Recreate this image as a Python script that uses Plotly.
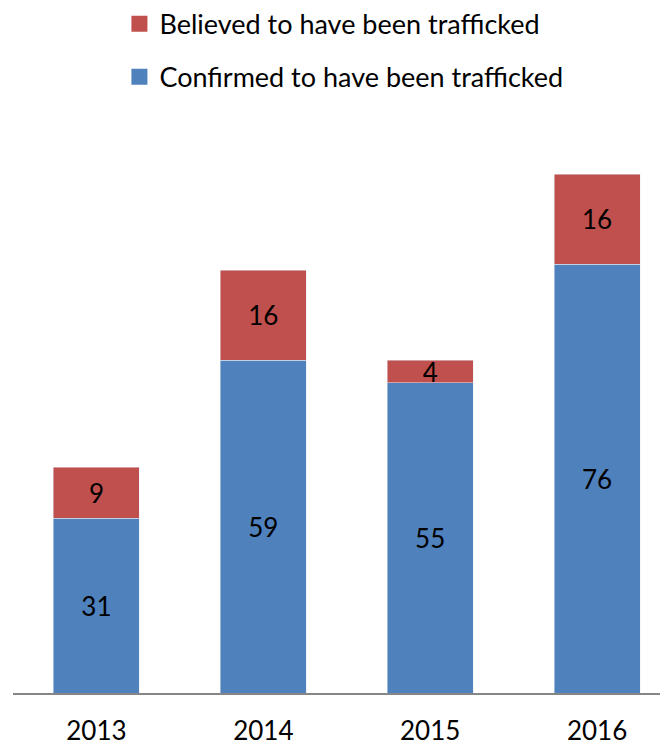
import plotly.graph_objects as go

years = ["2013", "2014", "2015", "2016"]
confirmed = [31, 59, 55, 76]
believed = [9, 16, 4, 16]
names = ["Believed to have been trafficked", "Confirmed to have been trafficked"]

BLUE = "#4F81BD"
RED = "#C0504D"
FONT = "Lato"
LBL = 26

fig = go.Figure()
fig.add_trace(go.Bar(
    x=years, y=confirmed, name=names[1],
    marker=dict(color=BLUE), text=confirmed, textposition="inside",
    insidetextanchor="middle", constraintext="none", textangle=0,
    textfont=dict(size=LBL, color="black", family=FONT),
    showlegend=False, width=0.515,
))
fig.add_trace(go.Bar(
    x=years, y=believed, name=names[0],
    marker=dict(color=RED), text=believed, textposition="inside",
    insidetextanchor="middle", constraintext="none", textangle=0,
    textfont=dict(size=LBL, color="black", family=FONT),
    showlegend=False, width=0.515,
))
# legend entries
for nm, col, rk, grp in [(names[0], RED, 1, "b"), (names[1], BLUE, 2, "c")]:
    fig.add_trace(go.Scatter(
        x=[None], y=[None], mode="markers", name=nm, legendrank=rk,
        legendgroup=grp,
        marker=dict(symbol="square", size=17, color=col),
    ))

# offsets compensate 8px page margin
L, R, T, B = 4.5, 8, 120.5, 60
PH = 745 - T - B
fig.update_layout(
    width=668, height=745,
    barmode="stack",
    plot_bgcolor="white", paper_bgcolor="white",
    margin=dict(l=L, r=R, t=T, b=B, autoexpand=False),
    font=dict(family=FONT, size=LBL, color="black"),
    xaxis=dict(type="category", range=[-0.5, 3.425], showline=True,
               linecolor="#868686", linewidth=2, ticks="", showgrid=False,
               tickangle=0, ticklabelstandoff=14,
               tickfont=dict(size=LBL, family=FONT)),
    yaxis=dict(range=[0, 100], visible=False, showgrid=False),
    legend=dict(x=(111 - L) / (668 - L - R), y=1 + (T + 9) / PH,
                xanchor="left", yanchor="top",
                traceorder="grouped", tracegroupgap=15,
                itemsizing="trace",
                font=dict(size=27, family=FONT),
                bgcolor="rgba(0,0,0,0)"),
    uniformtext=dict(mode=False),
)

fig.write_html("out.html")
